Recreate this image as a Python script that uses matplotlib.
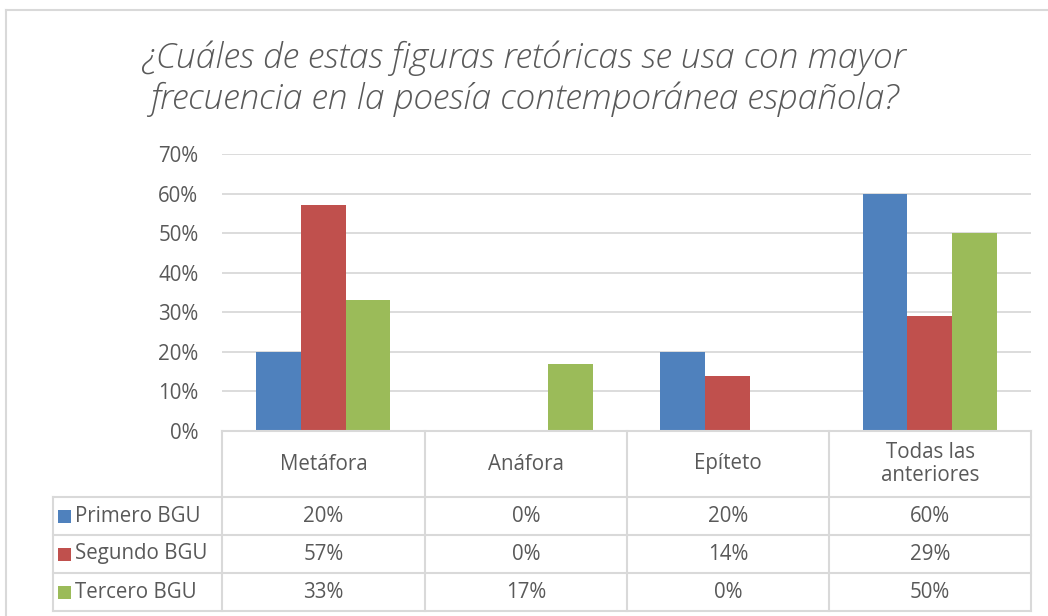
import matplotlib
matplotlib.use("Agg")
import matplotlib.pyplot as plt
from matplotlib.patches import Rectangle

categories = ["Metáfora", "Anáfora", "Epíteto", "Todas las\nanteriores"]
series_names = ["Primero BGU", "Segundo BGU", "Tercero BGU"]
primero = [0.20, 0.00, 0.20, 0.60]
segundo = [0.57, 0.00, 0.14, 0.29]
tercero = [0.33, 0.17, 0.00, 0.50]
y_ticks = [0.0, 0.1, 0.2, 0.3, 0.4, 0.5, 0.6, 0.7]
title = "¿Cuáles de estas figuras retóricas se usa con mayor\nfrecuencia en la poesía contemporánea española?"

series = [primero, segundo, tercero]
colors = ["#4F81BD", "#C0504D", "#9BBB59"]
grid_c = "#D9D9D9"
text_c = "#595959"
font = ["Open Sans", "DejaVu Sans"]
fs = 14.8

W, H = 1048, 616
fig = plt.figure(figsize=(W / 100, H / 100), dpi=100)
fig.patch.set_facecolor("white")

def fx(px):
    return px / W

def fy(py):
    return 1 - py / H

# outer border (top and left visible)
bg = fig.add_axes([0, 0, 1, 1])
bg.set_xlim(0, W)
bg.set_ylim(H, 0)
bg.axis("off")
bg.plot([6, W], [10, 10], color=grid_c, lw=1.5)
bg.plot([6, 6], [10, H], color=grid_c, lw=1.5)

# title
fig.text(0.5, fy(79), title, ha="center", va="center", fontsize=25.5,
         style="italic", color=text_c, family=font, linespacing=1.2,
         fontweight="light")

# main bar axes
left, right, top, bottom = 222, 1031, 154, 431
ax = fig.add_axes([fx(left), fy(bottom), fx(right) - fx(left), (bottom - top) / H])
n = len(categories)
bw = 0.222
for i, (vals, c) in enumerate(zip(series, colors)):
    xs = [k + (i - 1) * bw for k in range(n)]
    ax.bar(xs, vals, width=bw, color=c, zorder=3, linewidth=0)
ax.set_xlim(-0.5, n - 0.5)
ax.set_ylim(0, 0.7)
ax.set_yticks(y_ticks)
ax.set_yticklabels([f"{int(round(t*100))}%" for t in y_ticks], fontsize=fs,
                   color=text_c, family=font)
ax.tick_params(axis="y", length=0, pad=17)
ax.set_xticks([])
for yv in y_ticks:
    ax.axhline(yv, color=grid_c, lw=1.3, zorder=1)
for s in ax.spines.values():
    s.set_visible(False)

# data table
tb = fig.add_axes([0, 0, 1, 1])
tb.set_xlim(0, W)
tb.set_ylim(H, 0)
tb.axis("off")
tb.patch.set_alpha(0)
cols = [222, 425, 627, 829, 1031]
rows = [431, 497, 535, 573, 611]
tl = 53
lw = 1.5
for x in cols:
    tb.plot([x, x], [rows[0], rows[-1]], color=grid_c, lw=lw)
tb.plot([tl, tl], [rows[1], rows[-1]], color=grid_c, lw=lw)
tb.plot([cols[0], cols[-1]], [rows[0], rows[0]], color=grid_c, lw=lw)
for y in rows[1:]:
    tb.plot([tl, cols[-1]], [y, y], color=grid_c, lw=lw)

for k, cat in enumerate(categories):
    cx = (cols[k] + cols[k + 1]) / 2
    tb.text(cx, (rows[0] + rows[1]) / 2, cat, ha="center", va="center",
            fontsize=fs, color=text_c, family=font, linespacing=1.1)

for r, (name, vals, c) in enumerate(zip(series_names, series, colors)):
    cy = (rows[r + 1] + rows[r + 2]) / 2
    tb.add_patch(Rectangle((58, cy - 6.5), 13, 13, color=c, lw=0))
    tb.text(75, cy, name, ha="left", va="center", fontsize=fs,
            color=text_c, family=font)
    for k, v in enumerate(vals):
        cx = (cols[k] + cols[k + 1]) / 2
        tb.text(cx, cy, f"{int(round(v*100))}%", ha="center", va="center",
                fontsize=fs, color=text_c, family=font)

fig.savefig("out.png", dpi=100, facecolor="white")
